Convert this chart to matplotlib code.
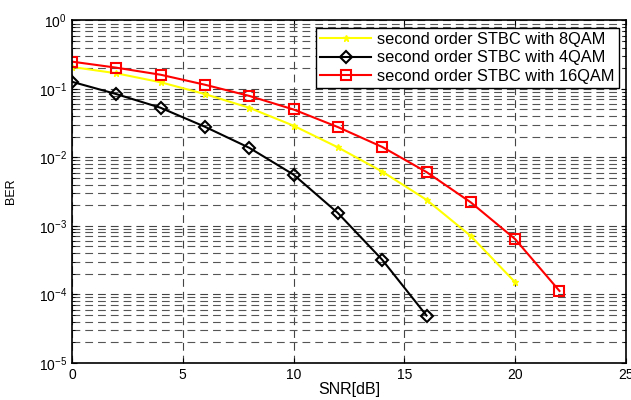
import numpy as np
import matplotlib.pyplot as plt
from matplotlib.ticker import LogLocator, NullFormatter

plt.rcParams['font.family'] = ['Liberation Sans', 'DejaVu Sans']
plt.rcParams['mathtext.fontset'] = 'custom'
plt.rcParams['mathtext.rm'] = 'Liberation Sans'

# SNR 取值
snr_8qam = [0, 2, 4, 6, 8, 10, 12, 14, 16, 18, 20]
ber_8qam = [0.209, 0.169, 0.125, 0.084, 0.053, 0.029, 0.014, 0.0062, 0.0024, 7.1e-4, 1.5e-4]

snr_4qam = [0, 2, 4, 6, 8, 10, 12, 14, 16]
ber_4qam = [0.127, 0.084, 0.053, 0.028, 0.0138, 0.0056, 0.00154, 3.2e-4, 4.9e-5]

snr_16qam = [0, 2, 4, 6, 8, 10, 12, 14, 16, 18, 20, 22]
ber_16qam = [0.25, 0.204, 0.161, 0.115, 0.079, 0.050, 0.0277, 0.0142, 0.0061, 0.0022, 6.4e-4, 1.12e-4]

fig = plt.figure(figsize=(6.31, 4.0), dpi=100)
ax = fig.add_axes([0.114, 0.093, 0.878, 0.856])

ax.semilogy(snr_8qam, ber_8qam, color='yellow', marker='*', markersize=5, lw=1.5,
            label='second order STBC with 8QAM')
ax.semilogy(snr_4qam, ber_4qam, color='black', marker='D', markersize=6, mfc='none',
            mew=1.5, lw=1.5, label='second order STBC with 4QAM')
ax.semilogy(snr_16qam, ber_16qam, color='red', marker='s', markersize=7, mfc='none',
            mew=1.5, lw=1.5, label='second order STBC with 16QAM')

ax.set_xlim(0, 25)
ax.set_ylim(1e-5, 1)
ax.set_xticks([0, 5, 10, 15, 20, 25])
ax.yaxis.set_major_locator(LogLocator(base=10, numticks=10))
ax.yaxis.set_minor_locator(LogLocator(base=10, subs=np.arange(2, 10), numticks=20))
ax.yaxis.set_minor_formatter(NullFormatter())

# MATLAB 风格网格
dash = (0, (7, 4.5))
ax.grid(True, which='major', axis='both', color='#444444', ls=dash, lw=0.8)
ax.grid(True, which='minor', axis='y', color='#555555', ls=dash, lw=0.8)

ax.tick_params(which='both', direction='in', top=True, right=True, labelsize=10)
for s in ax.spines.values():
    s.set_linewidth(1.2)

ax.set_xlabel('SNR[dB]', fontsize=11.5, labelpad=0)
ax.set_ylabel('BER', fontsize=9, labelpad=16)

leg = ax.legend(loc='upper right', fontsize=11.8, fancybox=False, framealpha=1,
                edgecolor='black', borderaxespad=0.45, handlelength=3.1,
                handletextpad=0.35, borderpad=0.25, labelspacing=0.22)
leg.get_frame().set_linewidth(1.0)

fig.savefig('out.png', dpi=100)
